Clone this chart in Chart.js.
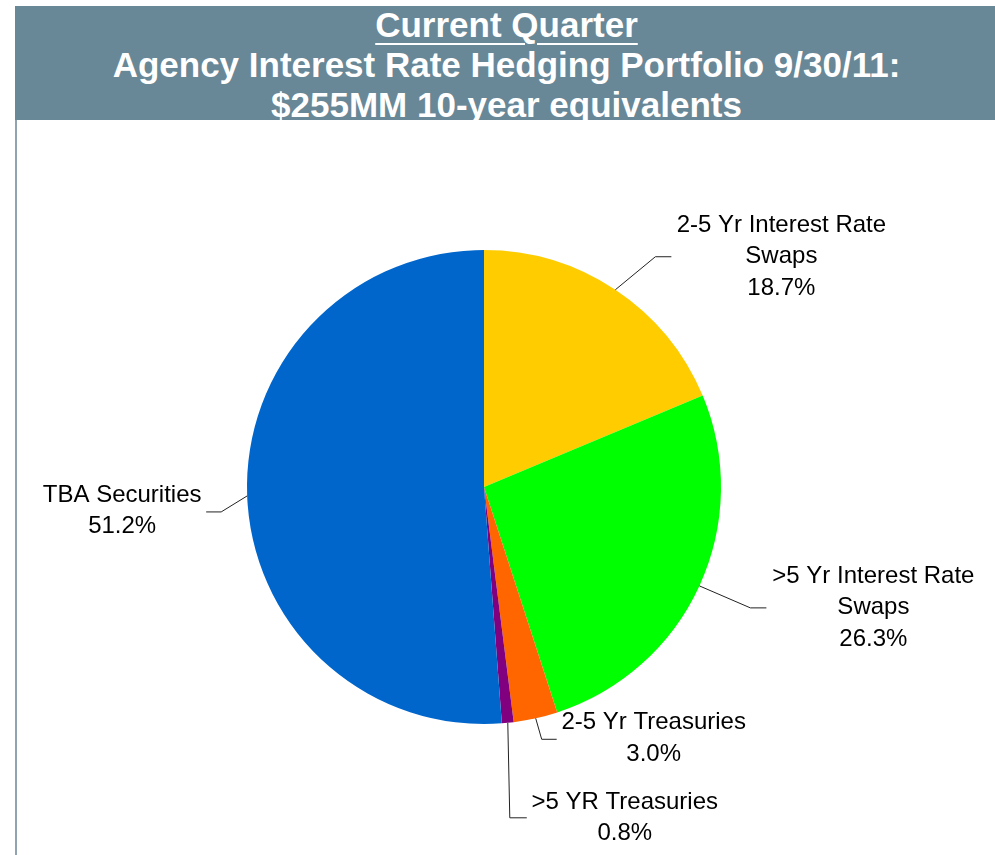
<!DOCTYPE html>
<html>
<head>
<meta charset="utf-8">
<script src="https://cdn.jsdelivr.net/npm/chart.js@4/dist/chart.umd.min.js"></script>
<style>
  html, body { margin: 0; padding: 0; background: #fff; }
  #wrap { position: relative; width: 995px; height: 855px; overflow: hidden; }
  #banner {
    position: absolute; left: 15px; top: 6px; width: 980px; height: 114px;
    background: #688797; overflow: hidden;
  }
  #banner .inner { position: relative; top: -1.4px; }
  #banner .line {
    font-family: "Liberation Sans", Arial, sans-serif; font-weight: bold;
    font-size: 35px; line-height: 40px; color: #fff; text-align: center;
    white-space: nowrap; padding-left: 3px;
  }
  #banner .line u { text-decoration-thickness: 2px; text-underline-offset: 6px; }
  #leftline { position: absolute; left: 15px; top: 120px; width: 2px; height: 735px; background: #8fa3b1; }
  #c { position: absolute; left: 0; top: 0; }
</style>
</head>
<body>
<div id="wrap">
  <div id="banner">
    <div class="inner">
      <div class="line"><u>Current Quarter</u></div>
      <div class="line">Agency Interest Rate Hedging Portfolio 9/30/11:</div>
      <div class="line">$255MM 10-year equivalents</div>
    </div>
  </div>
  <div id="leftline"></div>
  <canvas id="c" width="995" height="855"></canvas>
</div>
<script>
// data
var categories = [
    ["2-5 Yr Interest Rate", "Swaps"],
    [">5 Yr Interest Rate", "Swaps"],
    ["2-5 Yr Treasuries"],
    [">5 YR Treasuries"],
    ["TBA Securities"]
];
var shares = [18.7, 26.3, 3.0, 0.8, 51.2];
var sliceColors = ["#FFCC00", "#00FF00", "#FF6600", "#800080", "#0066CC"];

// label placement, offsets from the slice edge point
var labelLayout = [
    { elbow: [40, -33], end: [56, -33], text: [166, -58] },
    { elbow: [51, 22], end: [67, 22], text: [174, -3] },
    { elbow: [6, 21], end: [21, 21], text: [118, 11] },
    { elbow: [2, 95], end: [19, 95], text: [117, 86] },
    { elbow: [-26, 16], end: [-41, 16], text: [-125, 6] }
];
var lineGap = 31.5;

var pieLabels = {
    id: 'pieLabels',
    afterDatasetsDraw: function (chart) {
        var ctx = chart.ctx;
        var arcs = chart.getDatasetMeta(0).data;
        ctx.save();
        arcs.forEach(function (arc, i) {
            var p = arc.getProps(['x', 'y', 'startAngle', 'endAngle', 'outerRadius'], true);
            var mid = (p.startAngle + p.endAngle) / 2;
            var ax = p.x + Math.cos(mid) * p.outerRadius;
            var ay = p.y + Math.sin(mid) * p.outerRadius;
            var lay = labelLayout[i];

            // leader line
            ctx.strokeStyle = '#222';
            ctx.lineWidth = 1;
            ctx.beginPath();
            ctx.moveTo(ax, ay);
            ctx.lineTo(ax + lay.elbow[0], ay + lay.elbow[1]);
            ctx.lineTo(ax + lay.end[0], ay + lay.end[1]);
            ctx.stroke();

            // text
            var lines = categories[i].concat([shares[i].toFixed(1) + '%']);
            ctx.fillStyle = '#000';
            ctx.font = '24px "Liberation Sans", Arial, sans-serif';
            ctx.textAlign = 'center';
            ctx.textBaseline = 'alphabetic';
            lines.forEach(function (t, k) {
                ctx.fillText(t, ax + lay.text[0], ay + lay.text[1] + k * lineGap);
            });
        });
        ctx.restore();
    }
};

var ctx = document.getElementById("c").getContext("2d");
new Chart(ctx, {
    type: "pie",
    data: {
        labels: categories,
        datasets: [{
            data: shares,
            backgroundColor: sliceColors,
            borderWidth: 0
        }]
    },
    options: {
        responsive: false,
        animation: false,
        devicePixelRatio: 1,
        layout: {
            padding: { left: 247, right: 274, top: 250, bottom: 131 }
        },
        plugins: {
            legend: { display: false },
            tooltip: { enabled: false }
        }
    },
    plugins: [pieLabels]
});
</script>
</body>
</html>
